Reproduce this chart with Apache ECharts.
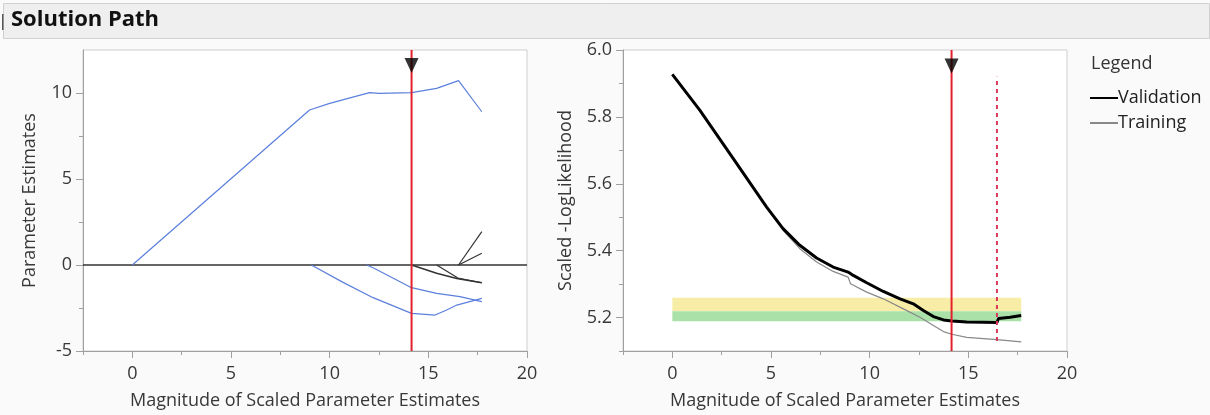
<!DOCTYPE html>
<html>
<head>
<meta charset="utf-8">
<script src="https://cdn.jsdelivr.net/npm/echarts@6/dist/echarts.min.js"></script>
<style>
html,body{margin:0;padding:0;background:#fafafa;}
#chart{width:1210px;height:415px;}
</style>
</head>
<body>
<div id="chart"></div>
<script>
// ---- Data ----
const titleText = 'Solution Path';
const xTickLabels = [0, 5, 10, 15, 20];
const xMinorTicks = [-2.5, 2.5, 7.5, 12.5, 17.5];
const leftYTicks = [-5, 0, 5, 10];
const leftYMinor = [-2.5, 2.5, 7.5];
const rightYTicks = [5.2, 5.4, 5.6, 5.8, 6.0];
const rightYMinor = [5.1, 5.3, 5.5, 5.7, 5.9];

// Parameter estimate paths (magnitude, estimate)
const blue1 = [[0,0],[8.98,9.01],[10.0,9.40],[12.02,10.02],[12.53,9.98],[14.15,10.02],[15.42,10.27],[16.53,10.72],[17.71,8.91]];
const blue2 = [[9.07,0],[10.68,-1.01],[12.2,-1.90],[14.15,-2.81],[15.34,-2.91],[15.93,-2.62],[16.44,-2.33],[17.71,-1.94]];
const blue3 = [[11.87,0],[12.2,-0.16],[14.15,-1.32],[15.42,-1.65],[16.6,-1.84],[17.71,-2.13]];
const black1 = [[14.15,0],[15.42,-0.48],[16.44,-0.78],[17.71,-1.03]];
const black2 = [[15.42,0],[16.5,-0.76],[17.71,-1.03]];
const black3 = [[16.53,0],[17.71,1.94]];
const black4 = [[16.53,0],[17.71,0.68]];

// Scaled -LogLikelihood paths
const validation = [[0,5.927],[1.39,5.820],[3.08,5.676],[4.77,5.531],[5.61,5.466],[6.46,5.416],[7.31,5.378],[8.15,5.351],[8.91,5.336],[9.17,5.326],[9.85,5.304],[10.69,5.278],[11.54,5.256],[12.21,5.241],[12.72,5.221],[13.23,5.203],[13.74,5.193],[14.16,5.190],[14.92,5.187],[15.77,5.186],[16.45,5.185],[16.53,5.197],[17.12,5.201],[17.68,5.206]];
const training = [[0,5.927],[1.39,5.820],[3.08,5.676],[4.77,5.529],[5.61,5.461],[6.46,5.406],[7.31,5.366],[8.15,5.338],[8.91,5.321],[8.99,5.319],[9.03,5.301],[9.85,5.276],[10.69,5.256],[11.71,5.226],[12.55,5.201],[13.23,5.176],[13.74,5.158],[14.16,5.150],[14.92,5.141],[16.45,5.134],[17.68,5.127]];

const selectedX = 14.15;      // solid red line (best model)
const altX = 16.45;           // dashed red line
const altRange = [5.13, 5.92];
const yellowBand = [0, 17.68, 5.219, 5.259];
const greenBand = [0, 17.68, 5.189, 5.219];
const leftMarkerY = 11.6;
const rightMarkerY = 5.952;

// ---- Chart ----
const FONT = 'Open Sans';
const FS = 18;
const txt = '#383838';
const axisCol = '#a0a0a0';
const frameCol = '#cfcfcf';
const blue = '#5b7fdc';
const red = '#e3202c';

function mainX(gi){
  return {type:'value', gridIndex:gi, min:-2.5, max:20,
    name:'Magnitude of Scaled Parameter Estimates', nameLocation:'middle', nameGap:41,
    nameTextStyle:{color:txt, fontSize:FS, fontFamily:FONT},
    axisLine:{show:true, onZero:false, lineStyle:{color:axisCol}},
    axisTick:{show:true, length:7, customValues:xTickLabels, lineStyle:{color:axisCol}},
    axisLabel:{customValues:xTickLabels, color:txt, fontSize:FS, fontFamily:FONT, margin:14},
    splitLine:{show:false}};
}
function minorX(gi){
  return {type:'value', gridIndex:gi, min:-2.5, max:20, position:'bottom',
    axisLine:{show:false, onZero:false}, axisLabel:{show:false}, splitLine:{show:false},
    axisTick:{show:true, length:4, customValues:xMinorTicks, lineStyle:{color:axisCol}}};
}
function mainY(gi, mn, mx, ticks, name, gap, fmt){
  return {type:'value', gridIndex:gi, min:mn, max:mx,
    name:name, nameLocation:'middle', nameGap:gap,
    nameTextStyle:{color:txt, fontSize:FS, fontFamily:FONT},
    axisLine:{show:true, onZero:false, lineStyle:{color:axisCol}},
    axisTick:{show:true, length:7, customValues:ticks, lineStyle:{color:axisCol}},
    axisLabel:{customValues:ticks, color:txt, fontSize:FS, fontFamily:FONT, margin:11, formatter:fmt},
    splitLine:{show:false}};
}
function minorY(gi, mn, mx, ticks){
  return {type:'value', gridIndex:gi, min:mn, max:mx, position:'left',
    axisLine:{show:false, onZero:false}, axisLabel:{show:false}, splitLine:{show:false},
    axisTick:{show:true, length:4, customValues:ticks, lineStyle:{color:axisCol}}};
}

function pathSeries(data, color, width, xi, yi, name){
  return {type:'line', name:name, data:data, xAxisIndex:xi, yAxisIndex:yi,
    symbol:'none', lineStyle:{color:color, width:width}, itemStyle:{color:color},
    silent:true, animation:false, z:3};
}

const chart = echarts.init(document.getElementById('chart'), null, {renderer:'canvas'});
const option = {
  animation:false,
  backgroundColor:'#fafafa',
  graphic:[
    {type:'rect', shape:{x:3.5, y:3.5, width:1206, height:35}, style:{fill:'#efefef', stroke:'#d0d0d0', lineWidth:1}, z:-1},
    {type:'rect', shape:{x:2, y:14, width:1.5, height:16}, style:{fill:'#555'}},
    {type:'text', left:11, top:9, style:{text:titleText, font:'bold 22px "Open Sans"', fill:'#111'}},
    {type:'text', left:1091, top:55, style:{text:'Legend', font:'18px "Open Sans"', fill:'#333'}}
  ],
  legend:{data:[{name:'Validation', itemStyle:{opacity:0}}, {name:'Training', itemStyle:{opacity:0}}],
    orient:'vertical', left:1089, top:87, itemGap:3, padding:0,
    itemWidth:28, itemHeight:24, textStyle:{color:'#222', fontSize:FS, fontFamily:FONT, padding:[0,0,0,-5], lineHeight:22}},
  grid:[
    {left:83, top:50, width:444, height:301, show:true, backgroundColor:'#ffffff', borderColor:frameCol, borderWidth:1},
    {left:623, top:50, width:444, height:301, show:true, backgroundColor:'#ffffff', borderColor:frameCol, borderWidth:1}
  ],
  xAxis:[mainX(0), minorX(0), mainX(1), minorX(1)],
  yAxis:[
    mainY(0, -5, 12.5, leftYTicks, 'Parameter Estimates', 44, v => String(v)),
    minorY(0, -5, 12.5, leftYMinor),
    mainY(1, 5.1, 6.0, rightYTicks, 'Scaled -LogLikelihood', 48, v => v.toFixed(1)),
    minorY(1, 5.1, 6.0, rightYMinor)
  ],
  series:[
    // left plot
    Object.assign(pathSeries([[-2.5,0],[20,0]], '#333', 1.5, 0, 0), {z:2}),
    pathSeries(blue1, blue, 1.2, 0, 0),
    pathSeries(blue2, blue, 1.2, 0, 0),
    pathSeries(blue3, blue, 1.2, 0, 0),
    pathSeries(black1, '#333', 1.5, 0, 0),
    pathSeries(black2, '#333', 1.2, 0, 0),
    pathSeries(black3, '#333', 1.2, 0, 0),
    pathSeries(black4, '#333', 1.2, 0, 0),
    Object.assign(pathSeries([[selectedX,-5],[selectedX,12.5]], red, 2, 0, 0), {z:5}),
    {type:'scatter', xAxisIndex:0, yAxisIndex:0, data:[[selectedX, leftMarkerY]], symbol:'triangle', symbolRotate:180,
      symbolSize:[14,15], itemStyle:{color:'#000'}, silent:true, z:6},
    // right plot
    {type:'line', xAxisIndex:2, yAxisIndex:2, data:[], silent:true, z:1,
      markArea:{silent:true, data:[
        [{coord:[yellowBand[0], yellowBand[3]], itemStyle:{color:'rgba(246,234,150,0.85)'}}, {coord:[yellowBand[1], yellowBand[2]]}],
        [{coord:[greenBand[0], greenBand[3]], itemStyle:{color:'rgba(160,222,160,0.9)'}}, {coord:[greenBand[1], greenBand[2]]}]
      ]}},
    pathSeries(training, '#888888', 1.2, 2, 2, 'Training'),
    pathSeries(validation, '#000000', 3, 2, 2, 'Validation'),
    Object.assign(pathSeries([[selectedX,5.1],[selectedX,6.0]], red, 2, 2, 2), {z:5}),
    Object.assign(pathSeries([[altX,altRange[0]],[altX,altRange[1]]], '#d8375a', 2, 2, 2), {z:5, lineStyle:{color:'#d8375a', width:2, type:[4,4]}}),
    {type:'scatter', xAxisIndex:2, yAxisIndex:2, data:[[selectedX, rightMarkerY]], symbol:'triangle', symbolRotate:180,
      symbolSize:[14,15], itemStyle:{color:'#000'}, silent:true, z:6}
  ]
};
chart.setOption(option);
</script>
</body>
</html>
